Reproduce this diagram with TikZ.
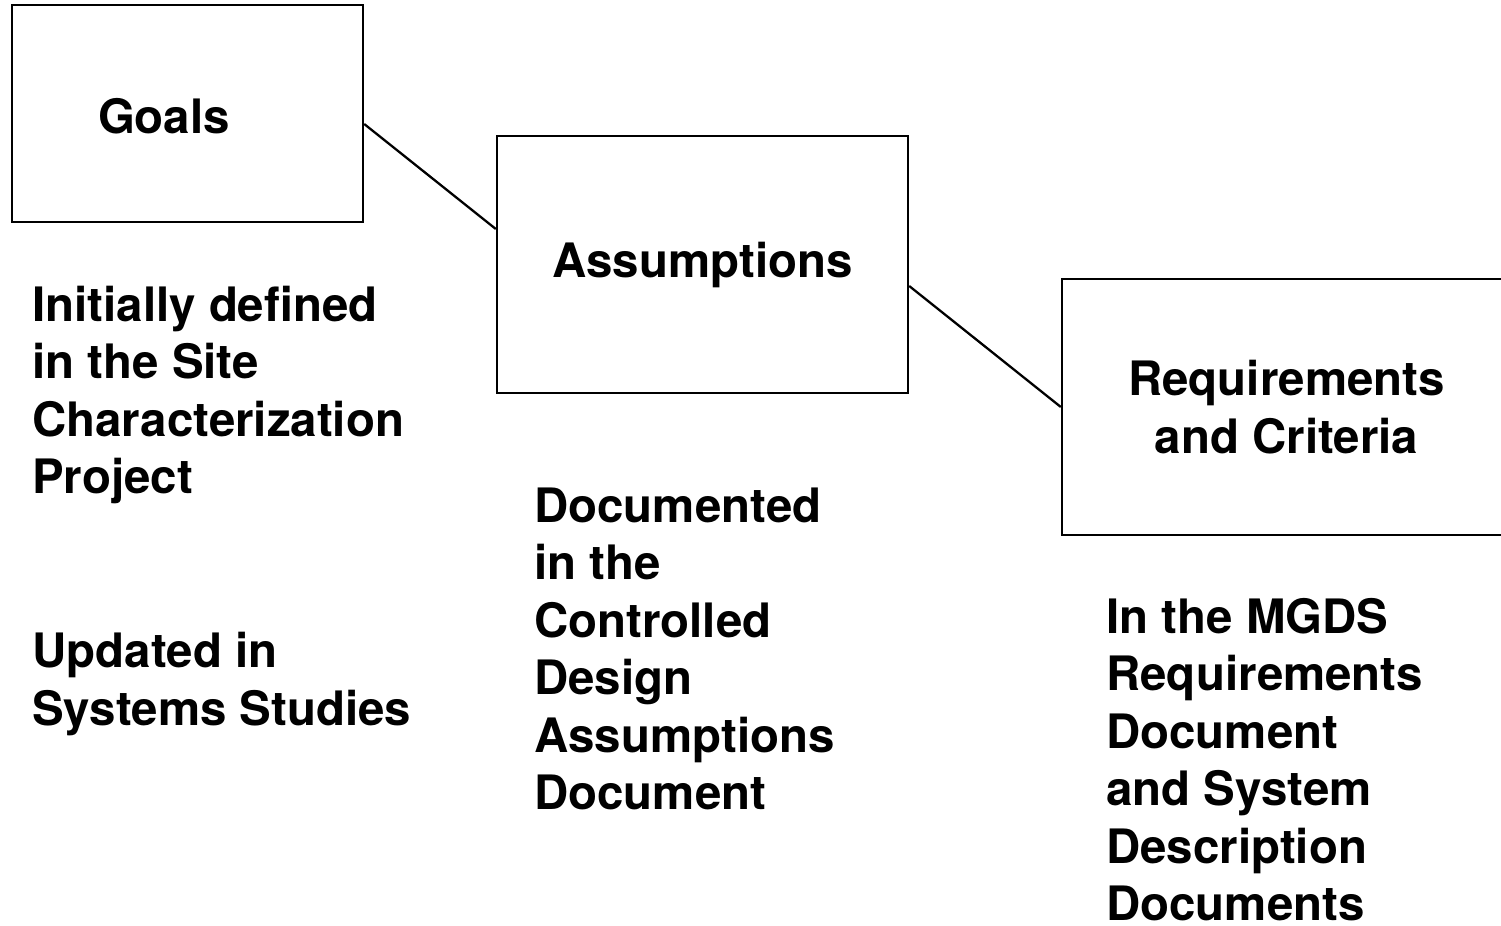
\documentclass[tikz,border=0pt]{standalone}
\usepackage{fontspec}
\setmainfont{TeX Gyre Heros}
\usepackage{tikz}
\usetikzlibrary{positioning}

\tikzset{
  box/.style={draw, line width=1.4pt, inner sep=0pt},
  lbl/.style={font=\bfseries\fontsize{27}{32.7}\selectfont},
  notes/.style={lbl, anchor=north west, inner sep=0pt, align=left},
  link/.style={line width=1.3pt}
}

\begin{document}
\begin{tikzpicture}[x=0.02cm, y=-0.02cm]
    \useasboundingbox (0,0) rectangle (1501,926);
    \node [box, minimum width=7.02cm, minimum height=4.34cm] (goals) at (187.5,113.5) {};
    \node [lbl] (goalstext) at (164,116) {Goals};
    \node [box, lbl, minimum width=8.22cm, minimum height=5.14cm] (assume) at (702.5,264.5) {Assumptions};
    \node [box, lbl, align=center, minimum width=8.98cm, minimum height=5.12cm] (req) at (1286.5,407) {Requirements\\and Criteria};
    \draw [link] ([yshift=-0.21cm]goals.east) -- ([yshift=0.71cm]assume.west);
    \draw [link] ([yshift=-0.43cm]assume.east) -- (req.west);
    \node [notes] (initial) at (32,285.5) {Initially defined\\in the Site\\Characterization\\Project};
    \node [notes] (updated) at (32,632) {Updated in\\Systems Studies};
    \node [notes] (documented) at (534,487.5) {Documented\\in the\\Controlled\\Design\\Assumptions\\Document};
    \node [notes] (mgds) at (1106,598) {In the MGDS\\Requirements\\Document\\and System\\Description\\Documents};
  \end{tikzpicture}
\end{document}
